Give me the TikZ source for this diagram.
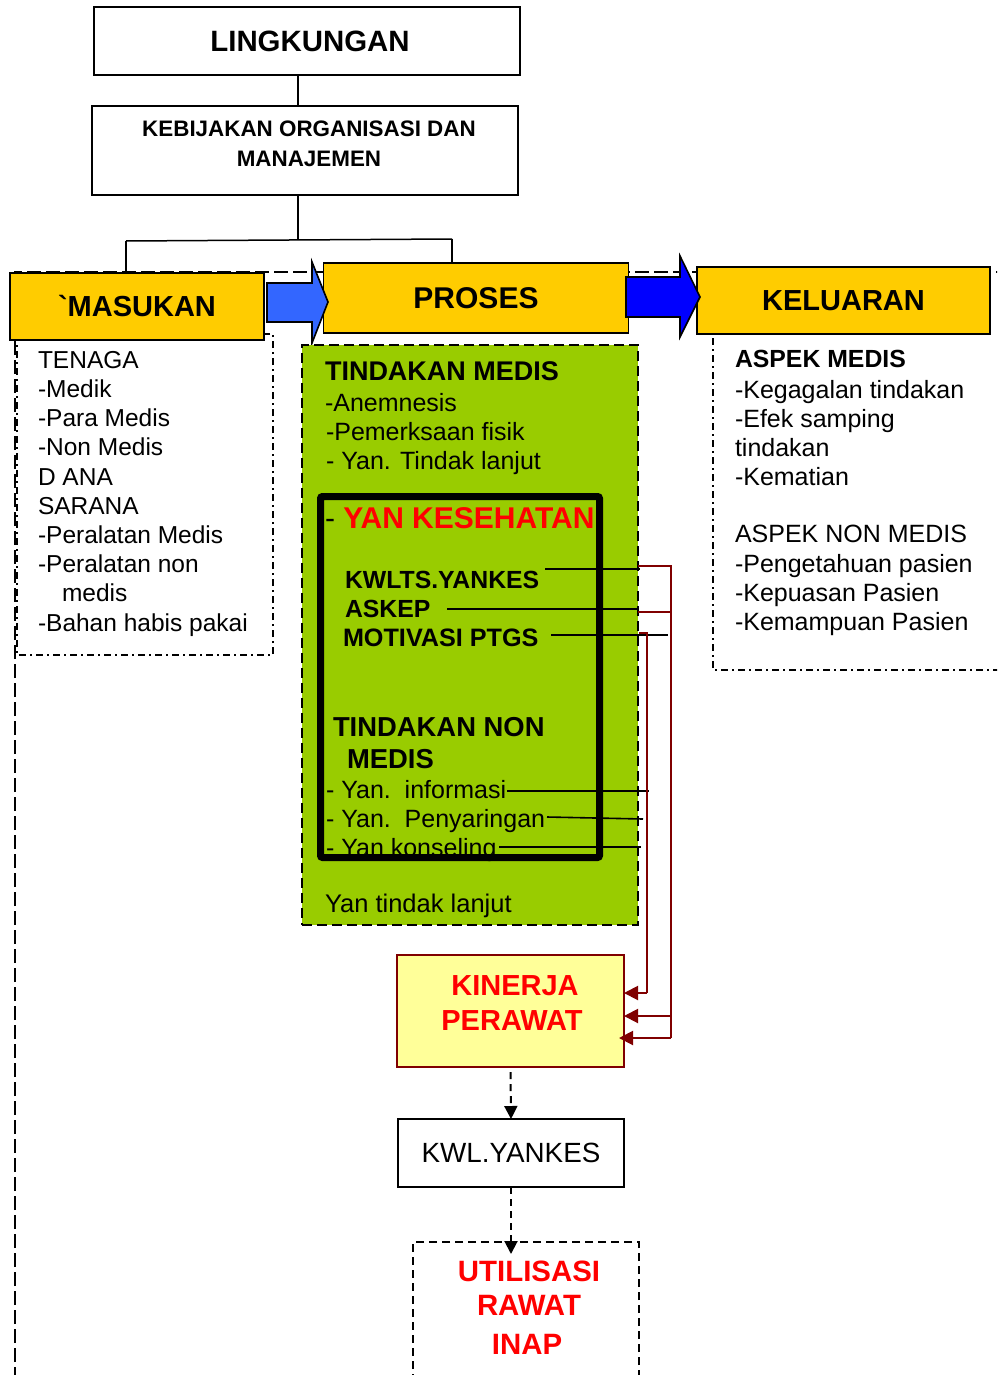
\documentclass[tikz,border=0pt]{standalone}
\usepackage{fontspec}
\setmainfont{Liberation Sans}
\usetikzlibrary{arrows.meta}
\definecolor{gold}{HTML}{FFCC00}
\definecolor{leaf}{HTML}{99CC00}
\definecolor{blueA}{HTML}{3366FF}
\definecolor{blueB}{HTML}{0000FF}
\definecolor{redT}{HTML}{FF0000}
\definecolor{darkred}{HTML}{800000}
\definecolor{paleyellow}{HTML}{FFFF99}
\tikzset{
  box/.style={draw, line width=1.6pt, inner sep=0pt, outer sep=0pt},
  goldbox/.style={box, fill=gold, font=\bfseries\fontsize{29}{34}\selectfont},
  txt/.style={anchor=base west, inner sep=0pt, outer sep=0pt, font=\fontsize{24.5}{29}\selectfont},
  gtxt/.style={anchor=base west, inner sep=0pt, outer sep=0pt, font=\fontsize{25}{29}\selectfont},
  btxt/.style={anchor=base west, inner sep=0pt, outer sep=0pt, font=\bfseries\fontsize{24.8}{29}\selectfont},
  ctxt/.style={anchor=base, inner sep=0pt, outer sep=0pt},
  conn/.style={line width=1.5pt},
  framedash/.style={line width=2pt, dash pattern=on 14pt off 5pt},
  dashdotline/.style={line width=2pt, dash pattern=on 7pt off 4pt on 2pt off 4pt},
  greendash/.style={line width=2.5pt, dash pattern=on 10pt off 5pt},
  blk/.style={line width=1.6pt},
  redl/.style={line width=2pt, draw=darkred},
  redarrow/.style={redl, -{Triangle[length=14pt,width=14pt]}},
  dasharrow/.style={line width=2pt, dash pattern=on 7pt off 5pt, -{Triangle[length=13pt,width=13pt]}},
  bigarrow/.style={draw, line width=1.6pt, line join=miter}
}
\begin{document}
\begin{tikzpicture}[x=1pt,y=-1pt]
\clip (0,0) rectangle (997,1375);
\fill[white] (0,0) rectangle (997,1375);

% large dashed frame
\draw[framedash] (15,1400) -- (15,272) -- (1000,272);
% dash-dot detail frames
\draw[dashdotline] (17,334) rectangle (273,655);
\draw[dashdotline] (713,338) -- (713,670) -- (1000,670);

% top boxes
\node[box, minimum width=426pt, minimum height=68pt, font=\bfseries\fontsize{29.4}{34}\selectfont] (lingk) at (307,41) {\hspace*{6pt}LINGKUNGAN};
\node[box, minimum width=426pt, minimum height=89pt] (kebij) at (305,150.5) {};
\node[align=center, inner sep=0pt, font=\bfseries\fontsize{22.4}{30}\selectfont] (kebijtxt) at (309,144) {KEBIJAKAN ORGANISASI DAN\\MANAJEMEN};

% junction lines
\coordinate (jt) at (298,240);
\coordinate (hl) at (126,241);
\coordinate (hr) at (452,239);
\draw[conn] (lingk.south -| jt) -- (kebij.north -| jt);
\draw[conn] (kebij.south -| jt) -- (jt);
\draw[conn] (hl) -- (hr);

% main stage boxes
\node[goldbox, minimum width=254pt, minimum height=67pt] (masukan) at (137,306.5) {\textasciigrave MASUKAN};
\node[goldbox, minimum width=305pt, minimum height=70pt, font=\bfseries\fontsize{30}{34}\selectfont] (proses) at (476,298) {PROSES};
\node[goldbox, minimum width=293pt, minimum height=67pt] (keluaran) at (843.5,300.5) {KELUARAN};
\draw[conn] (masukan.north -| hl) -- (hl);
\draw[conn] (hr) -- (proses.north -| hr);

% block arrows
\draw[bigarrow, fill=blueA] (267,283) -- (312,283) -- (312,262) -- (328,302) -- (312,343) -- (312,322) -- (267,322) -- cycle;
\draw[bigarrow, fill=blueB] (626,277) -- (680,277) -- (680,256) -- (700,297) -- (680,337) -- (680,317) -- (626,317) -- cycle;

% MASUKAN details
\node[txt] (m1) at (38,368) {TENAGA};
\node[txt] (m2) at (38,397) {-Medik};
\node[txt] (m3) at (38,426) {-Para Medis};
\node[txt] (m4) at (38,455) {-Non Medis};
\node[txt] (m5) at (38,485) {D ANA};
\node[txt] (m6) at (38,514) {SARANA};
\node[txt] (m7) at (38,543) {-Peralatan Medis};
\node[txt] (m8) at (38,572) {-Peralatan non};
\node[txt] (m9) at (62,601) {medis};
\node[txt] (m10) at (38,631) {-Bahan habis pakai};

% KELUARAN details
\node[btxt] (k1) at (735,367) {ASPEK MEDIS};
\node[gtxt] (k2) at (735,398) {-Kegagalan tindakan};
\node[gtxt] (k3) at (735,427) {-Efek samping};
\node[gtxt] (k4) at (735,456) {tindakan};
\node[gtxt] (k5) at (735,485) {-Kematian};
\node[gtxt] (k6) at (735,542) {ASPEK NON MEDIS};
\node[gtxt] (k7) at (735,572) {-Pengetahuan pasien};
\node[gtxt] (k8) at (735,601) {-Kepuasan Pasien};
\node[gtxt] (k9) at (735,630) {-Kemampuan Pasien};

% PROSES green area
\node[draw, greendash, fill=leaf, minimum width=336pt, minimum height=580pt, inner sep=0pt, outer sep=0pt] (green) at (470,635) {};
\node[btxt, font=\bfseries\fontsize{27}{30}\selectfont] (p1) at (325,380) {TINDAKAN MEDIS};
\node[gtxt] (p2) at (325,411) {-Anemnesis};
\node[gtxt] (p3) at (326,440) {-Pemerksaan fisik};
\node[gtxt] (p4) at (326,469) {- Yan. Tindak lanjut};

\node[btxt, font=\bfseries\fontsize{30}{32}\selectfont] (yk) at (325,528) {{\mdseries -} \textcolor{redT}{YAN KESEHATAN}};
\node[btxt] (kwlts) at (345,588) {KWLTS.YANKES};
\node[btxt] (askep) at (345,617) {ASKEP};
\node[btxt, font=\bfseries\fontsize{25.2}{29}\selectfont] (motiv) at (343,646) {MOTIVASI PTGS};
\node[btxt, font=\bfseries\fontsize{27.4}{32}\selectfont] (tnm1) at (333,736) {TINDAKAN NON};
\node[btxt, font=\bfseries\fontsize{27.4}{32}\selectfont] (tnm2) at (347,768) {MEDIS};
\node[gtxt] (y1) at (326,798) {- Yan.\ \ informasi};
\node[gtxt] (y2) at (326,827) {- Yan.\ \ Penyaringan};
\node[gtxt] (y3) at (326,856) {- Yan konseling};
\node[gtxt, font=\fontsize{25.5}{29}\selectfont] (ytl) at (325,912) {Yan tindak lanjut};

\node[draw, line width=7pt, rounded corners=2pt, minimum width=279pt, minimum height=361pt, inner sep=0pt, outer sep=0pt] (yanbox) at (460,677) {};

% black lines from items
\coordinate (a1) at (545,569); \coordinate (b1) at (640,569);
\coordinate (a2) at (447,609); \coordinate (b2) at (637,609);
\coordinate (a3) at (551,635); \coordinate (b3) at (668,635);
\coordinate (a4) at (507,791); \coordinate (b4) at (649,791);
\coordinate (a5) at (547,817); \coordinate (b5) at (643,819);
\coordinate (a6) at (499,847); \coordinate (b6) at (641,847);
\draw[blk] (a1) -- (b1);
\draw[blk] (a2) -- (b2);
\draw[blk] (a3) -- (b3);
\draw[blk] (a4) -- (b4);
\draw[blk] (a5) -- (b5);
\draw[blk] (a6) -- (b6);

% KINERJA box
\node[draw=darkred, line width=2pt, fill=paleyellow, minimum width=227pt, minimum height=112pt, inner sep=0pt, outer sep=0pt] (kinerja) at (510.5,1011) {};
\node[ctxt, text=redT, font=\bfseries\fontsize{29}{35}\selectfont] (kin1) at (515,995) {KINERJA};
\node[ctxt, text=redT, font=\bfseries\fontsize{29}{35}\selectfont] (kin2) at (512,1030) {PERAWAT};

% dark red connectors
\coordinate (r1) at (638,566);
\coordinate (r2) at (638,612);
\coordinate (r3) at (639,633);
\coordinate (busA) at (671,566);
\coordinate (busB) at (647,633);
\draw[redl] (r1) -- (busA) -- (671,1038);
\draw[redl] (r2) -- (671,612);
\draw[redarrow] (671,1038) -- ([xshift=-5pt]kinerja.east |- 0,1038);
\draw[redarrow] (671,1016) -- (kinerja.east |- 0,1016);
\draw[redl] (r3) -- (busB) -- (647,993);
\draw[redarrow] (647,993) -- (kinerja.east |- 0,993);

% KWL.YANKES
\node[box, minimum width=226pt, minimum height=68pt, font=\fontsize{27.8}{32}\selectfont] (kwl) at (511,1153) {KWL.YANKES};
\draw[dasharrow] ([yshift=-5pt]kinerja.south) -- (kwl.north);

% UTILISASI
\node[draw, line width=2pt, dash pattern=on 8pt off 5pt, minimum width=226pt, minimum height=170pt, inner sep=0pt, outer sep=0pt] (util) at (526,1327) {};
\coordinate (utin) at (511,1254);
\draw[dasharrow] (kwl.south) -- (utin);
\node[ctxt, text=redT, font=\bfseries\fontsize{29.4}{35}\selectfont] (u1) at (529,1281) {UTILISASI};
\node[ctxt, text=redT, font=\bfseries\fontsize{29.4}{35}\selectfont] (u2) at (529,1315) {RAWAT};
\node[ctxt, text=redT, font=\bfseries\fontsize{29.4}{35}\selectfont] (u3) at (527,1354) {INAP};
\end{tikzpicture}
\end{document}
